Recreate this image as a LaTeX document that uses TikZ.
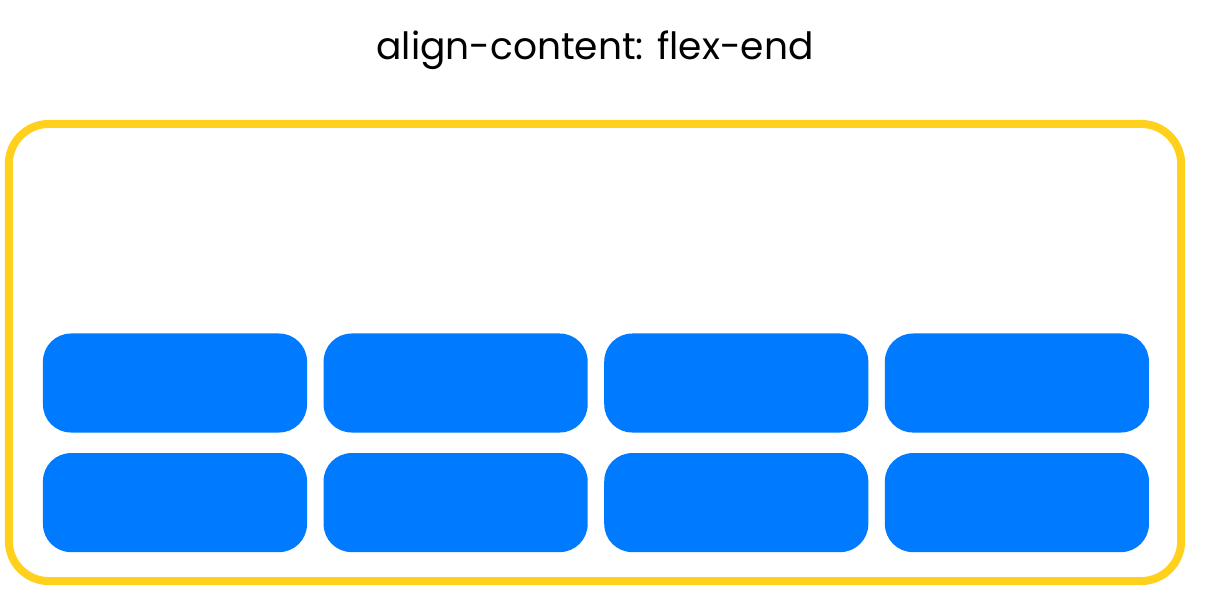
\documentclass[tikz,border=0pt]{standalone}
\usepackage{fontspec}
\setmainfont{Poppins}
\definecolor{FlexYellow}{RGB}{255, 208, 28}
\definecolor{FlexBlue}{RGB}{0, 122, 255}
\usepackage{tikz}
\usetikzlibrary{positioning}

\begin{document}
\begin{tikzpicture}[
    x=0.025cm, y=-0.025cm,
    node distance=0.4cm,
    frame/.style={draw=FlexYellow, line width=0.2cm, rounded corners=1cm, minimum width=29.3cm, minimum height=11.425cm, inner sep=0pt},
    item/.style={fill=FlexBlue, rounded corners=0.7cm, minimum width=6.6cm, minimum height=2.475cm, inner sep=0pt}
]
    \useasboundingbox (0,0) rectangle (1220,605);

    \node[font=\fontsize{26.7}{30}\selectfont] (title) at (595,50) {align-content: flex-end};
    \node[frame] (box) at (595,352.5) {};

    % first line
    \node[item] (a1) at (175,383) {};
    \node[item, right=of a1] (a2) {};
    \node[item, right=of a2] (a3) {};
    \node[item, right=of a3] (a4) {};

    % second line
    \node[item, below=0.5cm of a1] (b1) {};
    \node[item, right=of b1] (b2) {};
    \node[item, right=of b2] (b3) {};
    \node[item, right=of b3] (b4) {};
\end{tikzpicture}
\end{document}
